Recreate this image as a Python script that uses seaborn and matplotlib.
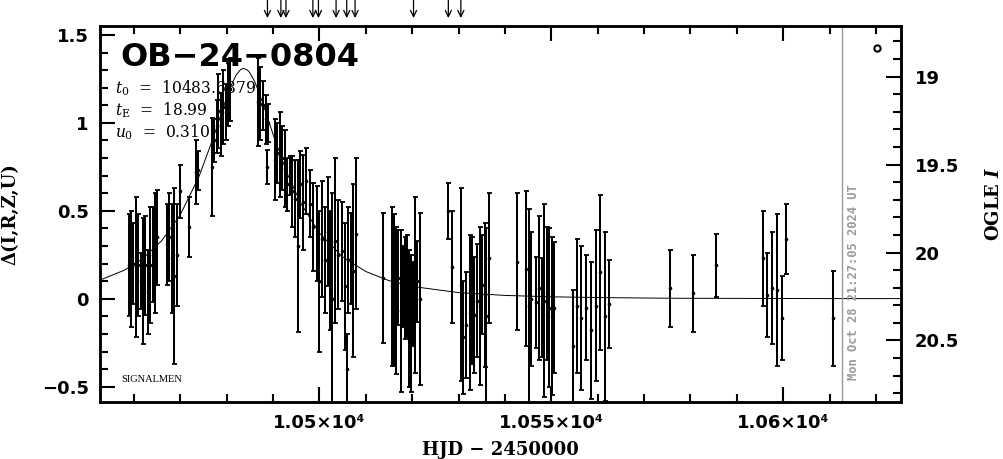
import matplotlib
matplotlib.use("Agg")
import matplotlib.pyplot as plt
import matplotlib.ticker as mticker
import seaborn as sns

# event / fit parameters shown on the plot
event_name = "OB−24−0804"
fit_labels = [r"$t_0$  =  10483.6879", r"$t_{\rm E}$  =  18.99", r"$u_0$  =  0.310"]
stamp = "Mon Oct 28 21:27:05 2024 UT"
mag_zero = 20.263  # OGLE I of delta = 0

# photometry: HJD-2450000, delta mag, error
t_obs = [10458.95, 10459.4, 10459.9, 10460.4, 10461.0, 10461.5, 10462.0, 10462.5, 10463.0, 10463.5,
         10464.1, 10464.6, 10465.0, 10467.1, 10467.6, 10468.2, 10468.7, 10469.3, 10470.0, 10471.9,
         10473.5, 10473.9, 10476.9, 10477.2, 10477.9, 10478.2, 10478.8, 10479.3, 10479.8, 10480.2,
         10480.7,
         10486.7, 10487.2, 10487.9, 10488.4, 10488.8, 10489.0, 10490.5, 10490.9, 10491.5, 10492.0,
         10492.6, 10493.1, 10493.6, 10494.2, 10494.7, 10495.3, 10495.8, 10496.5, 10497.2, 10498.0,
         10498.7, 10499.4, 10499.9, 10500.6, 10501.2, 10501.8, 10502.3, 10502.8, 10503.4, 10504.1,
         10504.8, 10505.5, 10505.9, 10506.2, 10506.8, 10507.3, 10507.8,
         10513.8, 10515.7, 10516.1, 10516.6, 10517.0, 10517.6, 10518.1, 10518.4, 10518.9, 10519.3,
         10519.7, 10520.2, 10520.7, 10521.1, 10521.7, 10527.8, 10528.7, 10530.5, 10531.0, 10531.7,
         10532.4, 10532.9, 10533.4, 10533.9, 10534.6, 10535.1, 10535.7, 10536.0, 10536.6,
         10542.7, 10544.6, 10545.1, 10545.7, 10546.8, 10547.4, 10547.9, 10548.4, 10549.0, 10549.5,
         10550.1, 10550.6, 10554.6, 10555.6, 10556.5, 10557.4, 10558.5, 10559.6, 10560.6, 10561.5,
         10562.5,
         10575.5, 10580.6, 10585.6, 10595.6, 10596.6, 10597.5, 10598.6, 10599.7, 10600.6, 10610.7]
d_obs = [0.19, 0.17, 0.20, 0.18, 0.19, 0.10, 0.10, 0.19, 0.04, 0.19,
         0.25, 0.26, 0.35, 0.31, 0.35, 0.23, 0.13, 0.25, 0.61, 0.41,
         0.72, 0.73, 0.75, 0.90, 0.98, 1.07, 0.99, 1.09, 1.06, 1.16,
         1.19,
         1.12, 1.11, 1.10, 1.02, 0.75, 1.00, 0.79, 0.83, 0.82, 0.80,
         0.74, 0.65, 0.70, 0.61, 0.57, 0.30, 0.65, 0.55, 0.67, 0.54,
         0.41, 0.37, 0.10, 0.34, 0.22, 0.38, 0.16, 0.00, 0.33, 0.25,
         0.27, 0.07, -0.40, 0.22, 0.23, 0.16, 0.37,
         0.12, 0.07, 0.05, -0.01, 0.12, -0.07, 0.07, 0.06, 0.07, -0.11,
         -0.14, -0.03, 0.08, 0.10, 0.00, 0.50, 0.18, 0.08, -0.22, -0.15,
         -0.08, -0.01, -0.09, -0.01, -0.04, 0.08, 0.02, -0.10, 0.23,
         0.21, 0.17, -0.04, 0.00, -0.02, 0.06, -0.05, -0.01, 0.03, -0.05,
         -0.10, -0.05, -0.27, -0.04, -0.11, -0.05, -0.18, -0.04, 0.15, -0.10,
         -0.03,
         0.06, 0.03, 0.19, 0.23, 0.02, 0.06, 0.05, -0.11, 0.34, -0.11]
e_obs = [0.29, 0.33, 0.23, 0.40, 0.29, 0.16, 0.36, 0.28, 0.24, 0.33,
         0.27, 0.34, 0.27, 0.23, 0.25, 0.31, 0.50, 0.29, 0.15, 0.17,
         0.18, 0.11, 0.28, 0.12, 0.15, 0.21, 0.18, 0.21, 0.16, 0.18,
         0.18,
         0.25, 0.21, 0.14, 0.14, 0.095, 0.11, 0.23, 0.17, 0.24, 0.18,
         0.22, 0.15, 0.11, 0.20, 0.22, 0.49, 0.19, 0.27, 0.19, 0.19,
         0.25, 0.27, 0.40, 0.33, 0.30, 0.31, 0.34, 0.60, 0.47, 0.31,
         0.28, 0.36, 0.20, 0.30, 0.26, 0.49, 0.43,
         0.37, 0.45, 0.43, 0.42, 0.27, 0.46, 0.23, 0.29, 0.29, 0.39,
         0.39, 0.24, 0.50, 0.23, 0.49, 0.16, 0.32, 0.55, 0.32, 0.30,
         0.44, 0.36, 0.33, 0.32, 0.45, 0.28, 0.41, 0.50, 0.37,
         0.39, 0.44, 0.55, 0.38, 0.26, 0.41, 0.28, 0.55, 0.38, 0.45,
         0.45, 0.37, 0.32, 0.38, 0.41, 0.30, 0.39, 0.43, 0.44, 0.48,
         0.25,
         0.22, 0.22, 0.18, 0.27, 0.24, 0.32, 0.43, 0.24, 0.20, 0.27]

# model curve as drawn
model_t = [10452.7, 10458, 10462, 10466, 10470, 10474, 10477, 10480, 10481, 10482, 10483,
           10483.7, 10484.5, 10485, 10486, 10487, 10488, 10490, 10493, 10496, 10500, 10505,
           10510, 10515, 10520, 10530, 10540, 10550, 10560, 10575, 10590, 10610, 10626]
model_d = [0.106, 0.163, 0.230, 0.330, 0.477, 0.692, 0.906, 1.144, 1.214, 1.270, 1.303,
           1.310, 1.300, 1.285, 1.238, 1.172, 1.096, 0.936, 0.716, 0.542, 0.374, 0.238,
           0.155, 0.103, 0.070, 0.035, 0.019, 0.011, 0.007, 0.003, 0.002, 0.001, 0.001]

# epochs marked with arrows above the frame
arrow_t = [10488.8, 10491.7, 10492.8, 10498.6, 10499.8, 10503.6, 10505.9, 10507.7,
           10520.3, 10527.8, 10530.5]
now_t = 10612.6

sns.set_style("ticks")
plt.rcParams["font.family"] = ["DejaVu Sans"]
plt.rcParams["font.weight"] = "bold"
for key in ["text.color", "axes.edgecolor", "axes.labelcolor", "xtick.color", "ytick.color"]:
    plt.rcParams[key] = "black"
plt.rcParams["mathtext.fontset"] = "custom"
plt.rcParams["mathtext.rm"] = "DejaVu Serif:normal"
plt.rcParams["mathtext.it"] = "DejaVu Serif:italic:normal"
plt.rcParams["mathtext.sf"] = "DejaVu Serif:italic:bold"
plt.rcParams["mathtext.bf"] = "DejaVu Serif:bold"

fig = plt.figure(figsize=(10.04, 4.59), dpi=100)
ax = fig.add_axes([0.0996, 0.1242, 0.7978, 0.8192])

ax.errorbar(t_obs, d_obs, yerr=e_obs, fmt="o", ms=1.6, color="black", ecolor="black",
            elinewidth=1.45, capsize=1.8, capthick=1.3)
sns.lineplot(x=model_t, y=model_d, ax=ax, color="black", linewidth=0.7)
ax.axvline(now_t, color="#9a9a9a", lw=1.0)

ax.set_xlim(10452.7, 10625.4)
ax.set_ylim(-0.587, 1.551)

ax.xaxis.set_major_locator(mticker.MultipleLocator(50))
ax.xaxis.set_minor_locator(mticker.MultipleLocator(10))
ax.yaxis.set_major_locator(mticker.MultipleLocator(0.5))
ax.yaxis.set_minor_locator(mticker.MultipleLocator(0.1))
ax.xaxis.set_major_formatter(mticker.FuncFormatter(lambda v, p: f"{v / 1e4:g}×10⁴"))
ax.yaxis.set_major_formatter(mticker.FuncFormatter(lambda v, p: f"{v:g}".replace("-", "−")))
ax.tick_params(which="both", direction="in", top=True, right=False, labelsize=13, width=1.5,
               colors="black")
ax.tick_params(which="major", length=10.5)
ax.tick_params(which="minor", length=5.5)
ax.tick_params(axis="x", pad=9)
ax.tick_params(axis="y", pad=8)
for s in ax.spines.values():
    s.set_linewidth(1.8)

ax2 = ax.twinx()
ax2.set_ylim(mag_zero + 0.587, mag_zero - 1.551)
ax2.yaxis.set_major_locator(mticker.MultipleLocator(0.5))
ax2.yaxis.set_minor_locator(mticker.MultipleLocator(0.1))
ax2.yaxis.set_major_formatter(mticker.FuncFormatter(lambda v, p: f"{v:g}"))
ax2.tick_params(which="both", direction="in", labelsize=13, width=1.5, pad=10, colors="black")
ax2.tick_params(which="major", length=10.5)
ax2.tick_params(which="minor", length=5.5)
for s in ax2.spines.values():
    s.set_linewidth(1.8)
    s.set_color("black")

ax.set_xlabel("HJD − 2450000", family="DejaVu Serif", fontsize=13, weight="bold")
ax.xaxis.set_label_coords(0.5, -0.105)
ax.set_ylabel("Δ(I,R,Z,U)", family="DejaVu Serif", fontsize=13, weight="bold")
ax.yaxis.set_label_coords(-0.1, 0.5)
ax2.set_ylabel(r"OGLE $\mathsf{I}$", family="DejaVu Serif", fontsize=13, weight="bold")
ax2.yaxis.set_label_coords(1.105, 0.528)

ax.text(0.026, 0.916, event_name, transform=ax.transAxes, fontsize=23, weight="bold",
        va="center", ha="left")
for i, lab in enumerate(fit_labels):
    ax.text(0.019, 0.835 - 0.059 * i, lab, transform=ax.transAxes, family="DejaVu Serif",
            fontsize=11.2, weight="normal", va="center", ha="left")
ax.text(0.027, 0.059, "SIGNALMEN", transform=ax.transAxes, family="Liberation Serif",
        fontsize=7.5, weight="normal", va="center", ha="left")
ax.text(now_t + 2.6, 0.0585, stamp, transform=ax.get_xaxis_transform(), rotation=90,
        ha="center", va="bottom", color="#9a9a9a", family="DejaVu Sans Mono",
        fontsize=8.7, weight="bold")
ax.plot([0.97], [0.941], "o", mfc="none", mec="black", ms=4.5, mew=1.5,
        transform=ax.transAxes, clip_on=False)

for t in arrow_t:
    ax.annotate("", xy=(t, 1.021), xytext=(t, 1.069), xycoords=ax.get_xaxis_transform(),
                textcoords=ax.get_xaxis_transform(), annotation_clip=False,
                arrowprops=dict(arrowstyle="->,head_length=0.45,head_width=0.22", lw=0.9,
                                color="black", shrinkA=0, shrinkB=0))

fig.savefig("out.png", dpi=100)
